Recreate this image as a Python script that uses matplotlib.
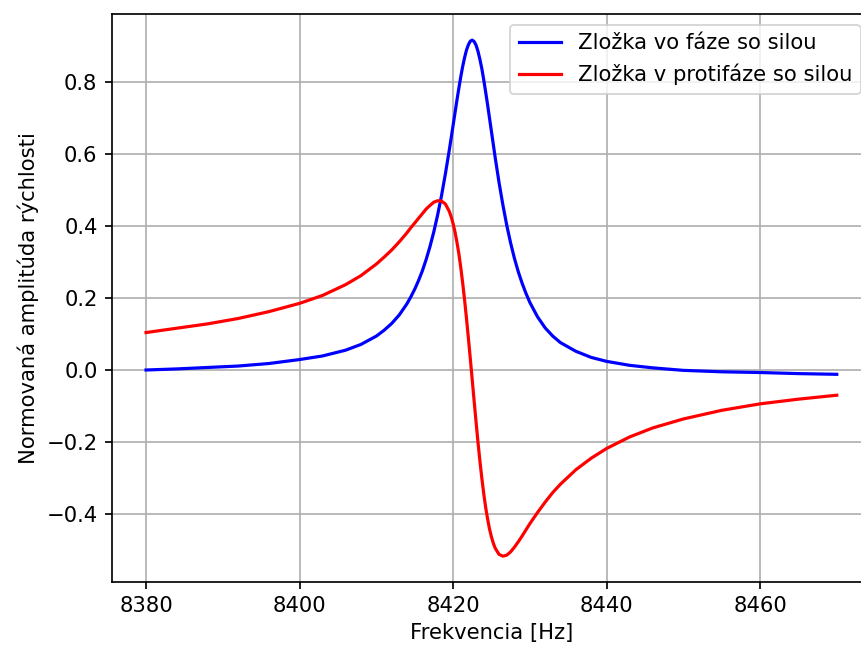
import matplotlib
matplotlib.use("Agg")
import matplotlib.pyplot as plt

# Frequency samples [Hz]
freq = [8380, 8384, 8388, 8392, 8396, 8400, 8403, 8406, 8408, 8410,
        8411, 8412, 8413, 8414, 8414.5, 8415, 8415.5, 8416, 8416.5, 8417,
        8417.5, 8418, 8418.5, 8419, 8419.5, 8419.75, 8420, 8420.25, 8420.5, 8420.75,
        8421, 8421.25, 8421.5, 8421.75, 8422, 8422.25, 8422.5, 8422.75, 8423, 8423.25,
        8423.5, 8423.75, 8424, 8424.25, 8424.5, 8424.75, 8425, 8425.25, 8425.5, 8426,
        8426.5, 8427, 8427.5, 8428, 8428.5, 8429, 8429.5, 8430, 8431, 8432,
        8433, 8434, 8436, 8438, 8440, 8443, 8446, 8450, 8455, 8460,
        8465, 8470]

# In-phase component (blue)
in_phase = [0.000, 0.003, 0.007, 0.011, 0.018, 0.029, 0.039, 0.055, 0.071, 0.094,
            0.110, 0.129, 0.153, 0.184, 0.203, 0.224, 0.248, 0.275, 0.307, 0.343,
            0.384, 0.431, 0.484, 0.544, 0.609, 0.643, 0.678, 0.713, 0.748, 0.781,
            0.813, 0.842, 0.867, 0.888, 0.903, 0.913, 0.916, 0.912, 0.902, 0.885,
            0.863, 0.837, 0.806, 0.772, 0.737, 0.700, 0.663, 0.626, 0.589, 0.520,
            0.458, 0.402, 0.353, 0.310, 0.273, 0.241, 0.213, 0.188, 0.148, 0.117,
            0.094, 0.076, 0.052, 0.035, 0.024, 0.013, 0.006, -0.001, -0.005, -0.007,
            -0.010, -0.012]

# Quadrature component (red)
quadrature = [0.104, 0.116, 0.128, 0.143, 0.162, 0.185, 0.207, 0.237, 0.262, 0.294,
              0.313, 0.333, 0.356, 0.381, 0.395, 0.408, 0.421, 0.434, 0.447, 0.457,
              0.466, 0.470, 0.469, 0.461, 0.441, 0.426, 0.407, 0.384, 0.356, 0.324,
              0.286, 0.243, 0.196, 0.144, 0.089, 0.032, -0.027, -0.086, -0.144, -0.200,
              -0.252, -0.300, -0.343, -0.381, -0.413, -0.441, -0.463, -0.481, -0.495, -0.512,
              -0.517, -0.514, -0.505, -0.492, -0.477, -0.461, -0.444, -0.427, -0.396, -0.367,
              -0.340, -0.317, -0.277, -0.245, -0.218, -0.186, -0.161, -0.136, -0.112, -0.094,
              -0.081, -0.070]

labels = ["Zložka vo fáze so silou", "Zložka v protifáze so silou"]

s = 1.13
plt.rcParams.update({
    "font.size": 10 * s,
    "lines.linewidth": 1.5 * s,
    "grid.linewidth": 0.8 * s,
    "axes.linewidth": 0.8 * s,
    "xtick.major.size": 3.5 * s,
    "ytick.major.size": 3.5 * s,
    "xtick.major.width": 0.8 * s,
    "ytick.major.width": 0.8 * s,
})

fig = plt.figure(figsize=(861 / 135, 650 / 135), dpi=135)
ax = fig.add_axes([111.5 / 861, 68 / 650, 759.8 / 861, 567.7 / 650])
ax.plot(freq, in_phase, color="blue", label=labels[0])
ax.plot(freq, quadrature, color="red", label=labels[1])
ax.set_xlabel("Frekvencia [Hz]")
ax.set_ylabel("Normovaná amplitúda rýchlosti")
ax.grid(True)
ax.legend(loc="upper right")
fig.savefig("out.png", dpi=135)
